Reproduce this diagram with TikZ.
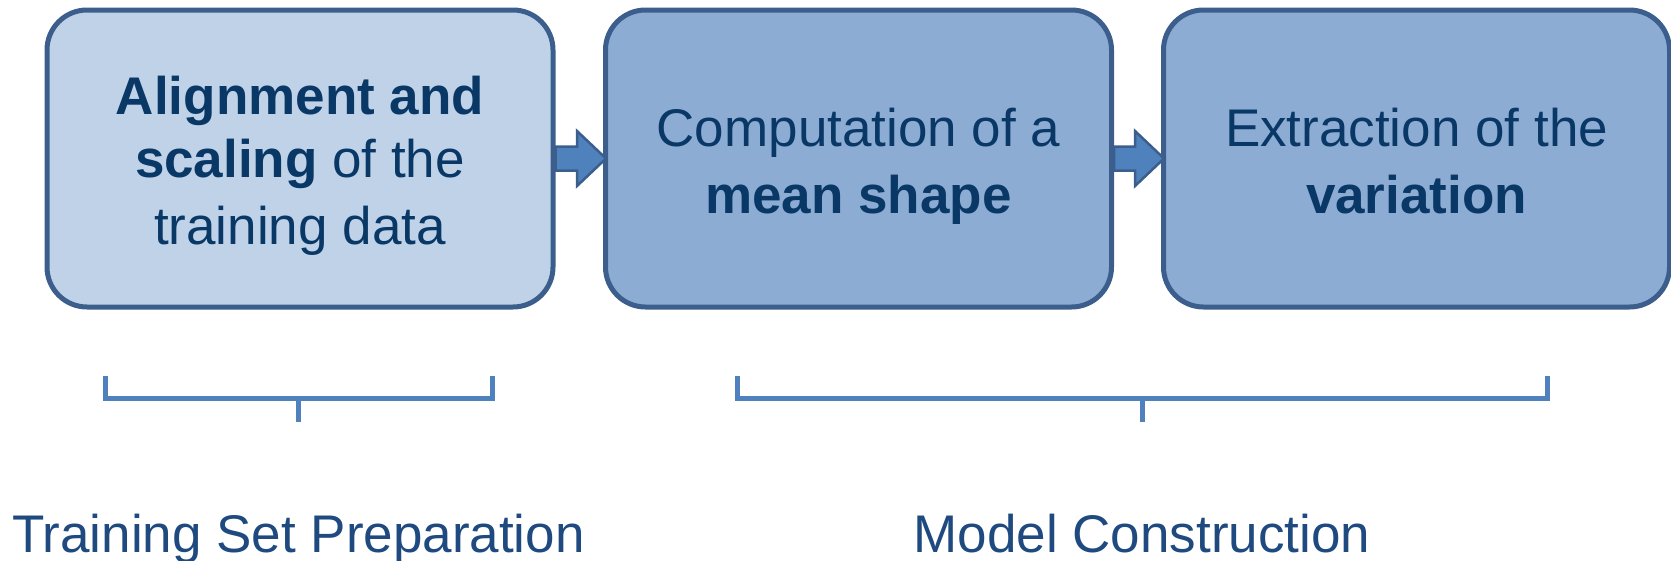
\documentclass[tikz,border=0pt]{standalone}
\usepackage{fontspec}
\setmainfont{Liberation Sans}
\usetikzlibrary{calc}

\definecolor{boxlight}{HTML}{BFD2E8}
\definecolor{boxmid}{HTML}{8CACD4}
\definecolor{boxedge}{HTML}{3B5E8C}
\definecolor{boxtext}{HTML}{0A3866}
\definecolor{accent}{HTML}{4F81BD}
\definecolor{labeltext}{HTML}{1F4A80}

% fixed line height/depth so every stage text sits at the same level
\newcommand\lnstrut{\rule[-12pt]{0pt}{66pt}}

\tikzset{
  stage/.style={draw=boxedge, line width=5pt, rounded corners=40pt,
    minimum width=506pt, minimum height=297pt, inner sep=0pt,
    align=center, text=boxtext,
    font=\fontsize{53}{63}\selectfont},
  fatarrow/.style={draw=boxedge, fill=accent, line width=2.5pt, line join=miter},
  bracket/.style={draw=accent, line width=5pt},
  phase/.style={text=labeltext, font=\fontsize{53}{63}\selectfont, anchor=base, inner sep=0pt}
}

\begin{document}
\begin{tikzpicture}[x=1pt,y=-1pt]
\useasboundingbox (0,0) rectangle (1671,560);

% processing stages
\node[stage, fill=boxlight] (s1) at (300,158.5)
  {\lnstrut\textbf{Alignment and}\\\textbf{scaling} of the\\training data\lnstrut};
\node[stage, fill=boxmid] (s2) at (858.5,158.5)
  {\lnstrut Computation of a\\\textbf{mean shape}\lnstrut};
\node[stage, fill=boxmid] (s3) at (1416.5,158.5)
  {\lnstrut Extraction of the\\\textbf{variation}\lnstrut};

% block arrows between the stages
\foreach \a/\b in {s1/s2, s2/s3}{
  \draw[fatarrow]
    ($(\a.east)+(0,-12)$) -- ($(\b.west)+(-26,-12)$) -- ($(\b.west)+(-26,-27.5)$)
    -- ($(\b.west)+(3,0)$)
    -- ($(\b.west)+(-26,27.5)$) -- ($(\b.west)+(-26,12)$) -- ($(\a.east)+(0,12)$) -- cycle;
}

% brackets grouping the stages
\coordinate (b1tl) at (105,376);
\coordinate (b1bl) at (105,398);
\coordinate (b1br) at (492,398);
\coordinate (b1tr) at (492,376);
\coordinate (b1m)  at (298.5,398);
\coordinate (b1s)  at (298.5,422);
\draw[bracket] (b1tl) -- (b1bl) -- (b1br) -- (b1tr);
\draw[bracket] (b1m) -- (b1s);

\coordinate (b2tl) at (737,376);
\coordinate (b2bl) at (737,398);
\coordinate (b2br) at (1547,398);
\coordinate (b2tr) at (1547,376);
\coordinate (b2m)  at (1142,398);
\coordinate (b2s)  at (1142,422);
\draw[bracket] (b2tl) -- (b2bl) -- (b2br) -- (b2tr);
\draw[bracket] (b2m) -- (b2s);

% phase labels
\node[phase] (p1) at (298.5,552) {Training Set Preparation};
\node[phase] (p2) at (1142,552) {Model Construction};
\end{tikzpicture}
\end{document}
